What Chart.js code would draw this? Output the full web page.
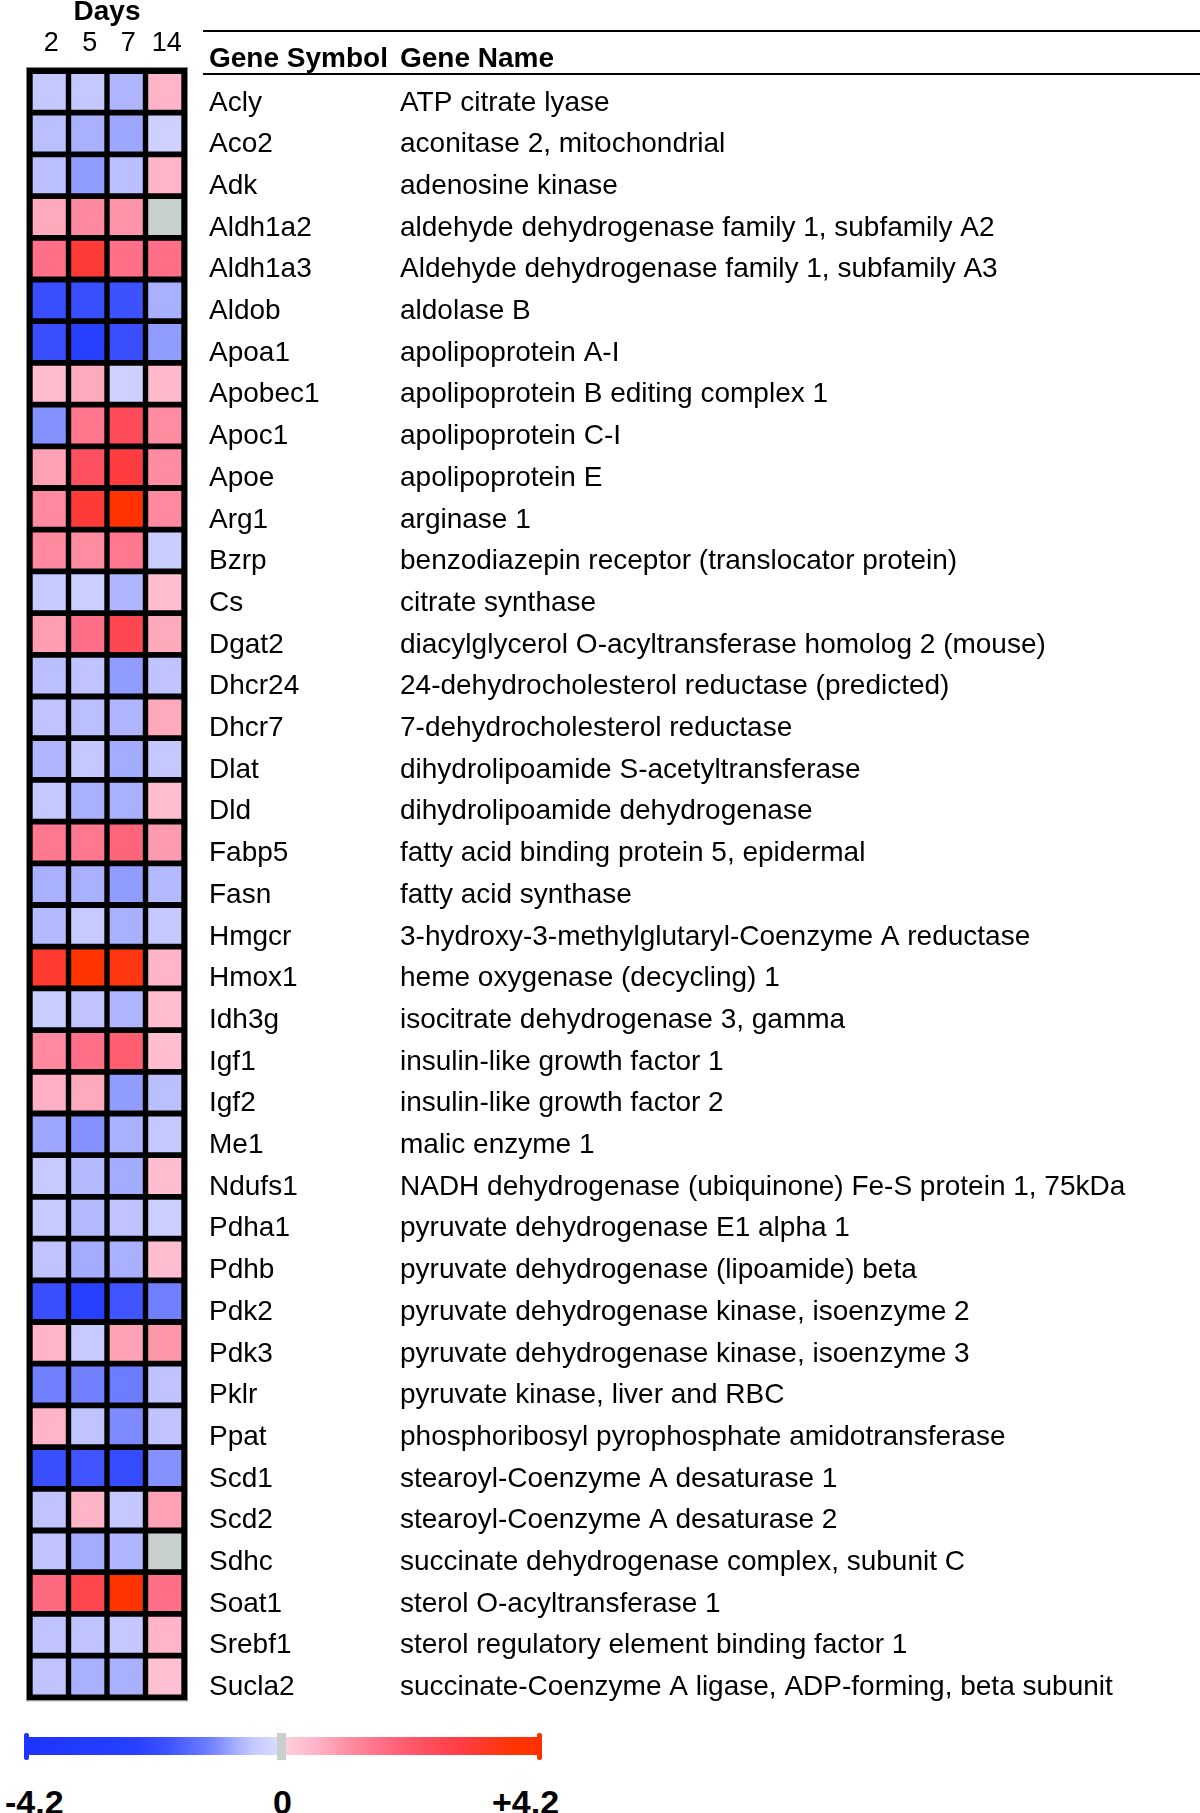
<!DOCTYPE html>
<html>
<head>
<meta charset="utf-8">
<title>Days heatmap</title>
<script src="https://cdn.jsdelivr.net/npm/chart.js@4.4.0/dist/chart.umd.min.js"></script>
<style>
  body { margin: 0; background: #fff; font-family: "Liberation Sans", Arial, sans-serif; }
  #wrap { position: relative; width: 1200px; height: 1813px; overflow: hidden; }
  #heat { position: absolute; left: 0; top: 0; }
  .rule { position: absolute; left: 203px; width: 997px; height: 2px; background: #000; }
  .hdr { position: absolute; top: 43px; font-size: 28px; font-weight: bold; line-height: 30px; color: #000; }
  #cbar { position: absolute; left: 27px; top: 1737px; width: 512px; height: 18px; }
  .cap { position: absolute; top: 1733px; height: 27px; width: 5px; border-radius: 2px; }
  .cblab { position: absolute; top: 1783px; font-size: 34px; font-weight: bold; line-height: 38px; color: #000; }
</style>
</head>
<body>
<div id="wrap">
  <canvas id="heat" width="1200" height="1705"></canvas>
  <div class="rule" style="top:30px"></div>
  <div class="rule" style="top:73px"></div>
  <div class="hdr" style="left:209px">Gene Symbol</div>
  <div class="hdr" style="left:400px">Gene Name</div>
  <div id="cbar"></div>
  <div class="cap" id="capLo" style="left:24px"></div>
  <div class="cap" id="capMid" style="left:277px;width:9px;border-radius:0"></div>
  <div class="cap" id="capHi" style="left:537px"></div>
  <div class="cblab" style="left:5px">-4.2</div>
  <div class="cblab" style="left:273px">0</div>
  <div class="cblab" style="left:492px">+4.2</div>
</div>

<script>
// columns (days) and rows (genes)
const days = ['2', '5', '7', '14'];

const genes = ['Acly', 'Aco2', 'Adk', 'Aldh1a2', 'Aldh1a3', 'Aldob', 'Apoa1', 'Apobec1', 'Apoc1', 'Apoe',
  'Arg1', 'Bzrp', 'Cs', 'Dgat2', 'Dhcr24', 'Dhcr7', 'Dlat', 'Dld', 'Fabp5', 'Fasn',
  'Hmgcr', 'Hmox1', 'Idh3g', 'Igf1', 'Igf2', 'Me1', 'Ndufs1', 'Pdha1', 'Pdhb', 'Pdk2',
  'Pdk3', 'Pklr', 'Ppat', 'Scd1', 'Scd2', 'Sdhc', 'Soat1', 'Srebf1', 'Sucla2'];

const geneNames = ['ATP citrate lyase', 'aconitase 2, mitochondrial', 'adenosine kinase',
  'aldehyde dehydrogenase family 1, subfamily A2', 'Aldehyde dehydrogenase family 1, subfamily A3',
  'aldolase B', 'apolipoprotein A-I', 'apolipoprotein B editing complex 1', 'apolipoprotein C-I',
  'apolipoprotein E', 'arginase 1', 'benzodiazepin receptor (translocator protein)', 'citrate synthase',
  'diacylglycerol O-acyltransferase homolog 2 (mouse)', '24-dehydrocholesterol reductase (predicted)',
  '7-dehydrocholesterol reductase', 'dihydrolipoamide S-acetyltransferase', 'dihydrolipoamide dehydrogenase',
  'fatty acid binding protein 5, epidermal', 'fatty acid synthase',
  '3-hydroxy-3-methylglutaryl-Coenzyme A reductase', 'heme oxygenase (decycling) 1',
  'isocitrate dehydrogenase 3, gamma', 'insulin-like growth factor 1', 'insulin-like growth factor 2',
  'malic enzyme 1', 'NADH dehydrogenase (ubiquinone) Fe-S protein 1, 75kDa', 'pyruvate dehydrogenase E1 alpha 1',
  'pyruvate dehydrogenase (lipoamide) beta', 'pyruvate dehydrogenase kinase, isoenzyme 2',
  'pyruvate dehydrogenase kinase, isoenzyme 3', 'pyruvate kinase, liver and RBC',
  'phosphoribosyl pyrophosphate amidotransferase', 'stearoyl-Coenzyme A desaturase 1',
  'stearoyl-Coenzyme A desaturase 2', 'succinate dehydrogenase complex, subunit C',
  'sterol O-acyltransferase 1', 'sterol regulatory element binding factor 1',
  'succinate-Coenzyme A ligase, ADP-forming, beta subunit'];

// log-ratio per gene, one array per day
const day2 = [-0.5, -0.6, -0.6, 0.7, 1.6, -2.0, -2.0, 0.4, -1.05, 0.8,
  1.15, 1.15, -0.45, 0.85, -0.6, -0.55, -0.7, -0.5, 1.45, -0.75,
  -0.65, 3.2, -0.4, 1.15, 0.6, -0.85, -0.45, -0.45, -0.55, -2.0,
  0.55, -1.2, 0.55, -2.0, -0.55, -0.55, 1.75, -0.55, -0.55];
const day5 = [-0.5, -0.75, -0.95, 1.15, 3.1, -2.0, -2.6, 0.7, 1.5, 2.3,
  3.1, 1.1, -0.35, 1.6, -0.55, -0.6, -0.5, -0.75, 1.45, -0.75,
  -0.45, 3.8, -0.55, 1.6, 0.7, -1.05, -0.65, -0.65, -0.8, -2.6,
  -0.45, -1.2, -0.55, -1.85, 0.55, -0.8, 2.7, -0.55, -0.75];
const day7 = [-0.7, -0.85, -0.6, 1.0, 1.6, -1.9, -2.0, -0.3, 2.5, 3.0,
  4.0, 1.45, -0.7, 2.6, -0.95, -0.7, -0.8, -0.75, 1.85, -0.95,
  -0.75, 3.6, -0.7, 2.0, -0.95, -0.75, -0.8, -0.55, -0.75, -1.85,
  0.8, -1.25, -1.1, -2.05, -0.5, -0.7, 3.9, -0.5, -0.75];
const day14 = [0.55, -0.3, 0.55, 0, 1.6, -0.75, -0.95, 0.45, 1.1, 1.1,
  1.15, -0.4, 0.35, 0.7, -0.55, 0.7, -0.5, 0.35, 0.9, -0.65,
  -0.5, 0.55, 0.35, 0.35, -0.6, -0.5, 0.35, -0.35, 0.35, -1.2,
  0.95, -0.55, -0.55, -1.05, 0.8, 0, 1.6, 0.55, 0.3];

const seriesByDay = [day2, day5, day7, day14];

// colour scale: value -> colour (0 itself is grey)
const scaleMin = -4.2;
const scaleMax = 4.2;
const scaleTicks = ['-4.2', '0', '+4.2'];
const zeroColor = '#c8d0cc';
const colorStops = [
  [-4.2, '#1e34ff'], [-2.4, '#2840ff'], [-1.9, '#3c52ff'], [-1.2, '#7080ff'],
  [-0.8, '#a4acff'], [-0.5, '#c4c8ff'], [-0.01, '#dcdfff'],
  [0.01, '#ffd0dc'], [0.55, '#ffb4c8'], [1.1, '#ff8ca0'], [1.6, '#ff7088'],
  [2.3, '#ff5060'], [3.0, '#ff3c40'], [3.8, '#ff3400'], [4.2, '#ff3000']
];

function hexRgb(h) {
  return [parseInt(h.slice(1, 3), 16), parseInt(h.slice(3, 5), 16), parseInt(h.slice(5, 7), 16)];
}

function valueColor(v) {
  if (v === 0) return zeroColor;
  if (v <= colorStops[0][0]) return colorStops[0][1];
  for (let i = 1; i < colorStops.length; i++) {
    if (v <= colorStops[i][0]) {
      const [v0, c0] = colorStops[i - 1];
      const [v1, c1] = colorStops[i];
      const t = (v - v0) / (v1 - v0);
      const a = hexRgb(c0), b = hexRgb(c1);
      const rgb = a.map((x, k) => Math.round(x + (b[k] - x) * t));
      return `rgb(${rgb.join(',')})`;
    }
  }
  return colorStops[colorStops.length - 1][1];
}

// colour bar legend under the heatmap
(function buildColorBar() {
  const stops = colorStops.map(([v, c]) => `${c} ${((v - scaleMin) / (scaleMax - scaleMin) * 100).toFixed(1)}%`);
  document.getElementById('cbar').style.background = `linear-gradient(to right, ${stops.join(', ')})`;
  document.getElementById('capLo').style.background = valueColor(scaleMin);
  document.getElementById('capHi').style.background = valueColor(scaleMax);
  document.getElementById('capMid').style.background = zeroColor;
  document.querySelectorAll('.cblab').forEach((el, i) => { el.textContent = scaleTicks[i]; });
})();

// black frame behind the cells
const framePlugin = {
  id: 'frame',
  beforeDatasetsDraw(chart) {
    const { ctx, chartArea: a } = chart;
    ctx.save();
    ctx.fillStyle = '#000';
    ctx.fillRect(a.left - 3, a.top - 3, a.right - a.left + 6, a.bottom - a.top + 6);
    ctx.strokeStyle = '#888';
    ctx.lineWidth = 1;
    ctx.strokeRect(a.left - 3.5, a.top - 3.5, a.right - a.left + 7, a.bottom - a.top + 7);
    ctx.restore();
  }
};

// right-hand label columns: fixed width, no extra top/bottom padding
function fixedColumn(width) {
  return function (s) {
    s.width = width;
    s.paddingTop = 0;
    s.paddingBottom = 0;
  };
}

Chart.defaults.font.family = '"Liberation Sans", Arial, sans-serif';
Chart.defaults.color = '#000';

new Chart(document.getElementById('heat'), {
  type: 'bar',
  data: {
    labels: genes,
    datasets: seriesByDay.map((vals, d) => ({
      label: days[d],
      data: vals.map(() => [d + 0.07, d + 0.93]),
      backgroundColor: vals.map(valueColor),
      borderWidth: 0,
      grouped: false,
      barPercentage: 0.86,
      categoryPercentage: 1
    }))
  },
  options: {
    indexAxis: 'y',
    responsive: false,
    animation: false,
    layout: { padding: { left: 30, right: 0, top: 0, bottom: 7.7 } },
    plugins: { legend: { display: false }, tooltip: { enabled: false } },
    scales: {
      x: { type: 'linear', min: 0, max: days.length, display: false },
      xDays: {
        type: 'category', labels: days, position: 'top', offset: true,
        grid: { display: false, drawTicks: false }, border: { display: false },
        ticks: { font: { size: 27 }, color: '#000', padding: 11, labelOffset: 2 },
        title: {
          display: true, text: 'Days', color: '#000', padding: { top: 0, bottom: 0 },
          font: { size: 28, weight: 'bold', lineHeight: 0.85 }
        },
        afterFit(s) { s.height = 71; }
      },
      y: {
        type: 'category', position: 'right', offset: true,
        grid: { display: false, drawTicks: false }, border: { display: false },
        ticks: { font: { size: 28 }, color: '#000', padding: 25, labelOffset: 11, autoSkip: false },
        afterFit: fixedColumn(216)
      },
      yName: {
        type: 'category', labels: geneNames, position: 'right', offset: true,
        grid: { display: false, drawTicks: false }, border: { display: false },
        ticks: { font: { size: 28 }, color: '#000', padding: 0, labelOffset: 11, autoSkip: false },
        afterFit: fixedColumn(800)
      }
    }
  },
  plugins: [framePlugin]
});
</script>
</body>
</html>
